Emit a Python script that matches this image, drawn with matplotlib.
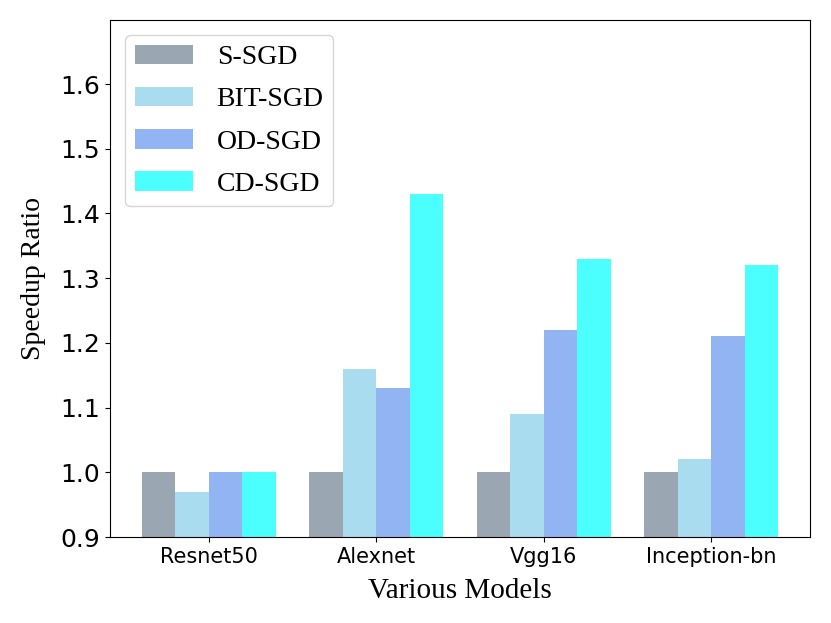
import numpy as np
import matplotlib.pyplot as plt

models = ["Resnet50", "Alexnet", "Vgg16", "Inception-bn"]
s_sgd = [1.00, 1.00, 1.00, 1.00]
bit_sgd = [0.97, 1.16, 1.09, 1.02]
od_sgd = [1.00, 1.13, 1.22, 1.21]
cd_sgd = [1.00, 1.43, 1.33, 1.32]

labels = ["S-SGD", "BIT-SGD", "OD-SGD", "CD-SGD"]
colors = ["slategray", "skyblue", "cornflowerblue", "cyan"]

fig = plt.figure(figsize=(8.31, 6.23), dpi=100)
ax = fig.add_axes([0.132, 0.138, 0.843, 0.83])

x = np.arange(len(models))
w = 0.2
for i, (vals, lab, c) in enumerate(zip([s_sgd, bit_sgd, od_sgd, cd_sgd], labels, colors)):
    ax.bar(x + (i - 1.5) * w, vals, w, color=c, alpha=0.7, label=lab)

ax.set_ylim(0.9, 1.699)
ax.set_xticks(x)
ax.set_xticklabels(models, fontsize=15)
ax.tick_params(axis='y', labelsize=18)
ax.set_ylabel("Speedup Ratio", family="Liberation Serif", fontsize=20, labelpad=10)
ax.set_xlabel("Various Models", family="Liberation Serif", fontsize=21, labelpad=8)
ax.legend(loc="upper left", prop={"family": "Liberation Serif", "size": 20},
          handlelength=2.1, handleheight=0.7, handletextpad=0.85, labelspacing=0.6,
          borderpad=0.35, borderaxespad=0.55)

plt.savefig("out.png")
